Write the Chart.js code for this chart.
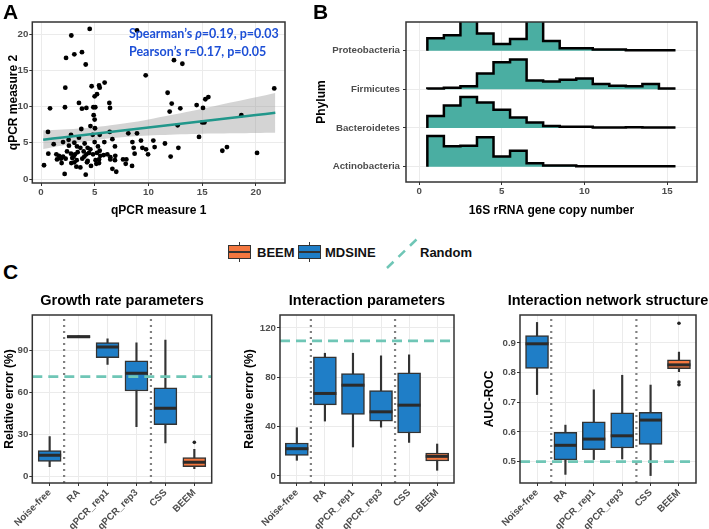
<!DOCTYPE html>
<html><head><meta charset="utf-8">
<script src="https://cdn.jsdelivr.net/npm/chart.js@4.4.1/dist/chart.umd.min.js"></script>
<style>
html,body{margin:0;padding:0;width:709px;height:529px;overflow:hidden;background:#fff;font-family:"Liberation Sans",Arial,Helvetica,sans-serif;}
.abs{position:absolute;}
canvas{position:absolute;}
.letter{position:absolute;font-size:21px;font-weight:bold;line-height:21px;color:#000;}
.ann{position:absolute;font-family:Lato,"Open Sans",sans-serif;font-weight:bold;font-size:12.5px;line-height:16px;color:#1d4fd6;white-space:nowrap;}
.leg{position:absolute;font-size:13px;font-weight:bold;line-height:16px;color:#111;white-space:nowrap;}
</style></head>
<body>
<canvas id="chartA" width="300" height="222" style="left:0;top:0"></canvas>
<canvas id="chartB" width="409" height="222" style="left:300px;top:0"></canvas>
<canvas id="chartC1" width="244" height="241" style="left:0;top:288px"></canvas>
<canvas id="chartC2" width="262" height="241" style="left:236px;top:288px"></canvas>
<canvas id="chartC3" width="276" height="241" style="left:470px;top:288px"></canvas>

<div class="letter" style="left:3px;top:1px">A</div>
<div class="letter" style="left:313px;top:1px">B</div>
<div class="letter" style="left:3px;top:261px">C</div>

<div class="ann" style="left:129px;top:26px">Spearman’s <i>ρ</i>=0.19, p=0.03</div>
<div class="ann" style="left:129px;top:44px">Pearson’s r=0.17, p=0.05</div>

<!-- legend -->
<div class="abs" style="left:228px;top:242px;width:23px;height:20px">
  <div style="position:absolute;left:10.75px;top:0;width:1.5px;height:20px;background:#333"></div>
  <div style="position:absolute;left:0;top:3px;width:23px;height:14px;box-sizing:border-box;border:1.5px solid #333;background:#f4773f"></div>
  <div style="position:absolute;left:0;top:9.25px;width:23px;height:1.5px;background:#333"></div>
</div>
<div class="leg" style="left:257px;top:245px">BEEM</div>
<div class="abs" style="left:298px;top:242px;width:23px;height:20px">
  <div style="position:absolute;left:10.75px;top:0;width:1.5px;height:20px;background:#333"></div>
  <div style="position:absolute;left:0;top:3px;width:23px;height:14px;box-sizing:border-box;border:1.5px solid #333;background:#1f7ec7"></div>
  <div style="position:absolute;left:0;top:9.25px;width:23px;height:1.5px;background:#333"></div>
</div>
<div class="leg" style="left:325px;top:245px">MDSINE</div>
<svg class="abs" style="left:385px;top:236px" width="36" height="34"><line x1="2" y1="32" x2="33" y2="2" stroke="#6fc6b6" stroke-width="2.5" stroke-dasharray="9 7"/></svg>
<div class="leg" style="left:420px;top:245px">Random</div>

<script>
// ================= DATA =================
// Panel A: qPCR measurements
const qpcr1 = [4.53,8.93,2.82,3.1,3.81,2.33,4.16,12.37,13.15,9.74,5.92,5.4,5.46,4.71,2.26,21.7,11.78,5.21,4.99,15.57,15.29,3.53,6.36,12.16,14.48,0.84,2.23,4.22,3.81,4.87,5.05,6.42,12.96,15.07,11.97,18.64,4.9,4.99,15.0,15.2,12.71,4.6,5.02,3.75,0.65,6.39,8.12,8.93,2.79,5.46,3.53,4.81,6.64,10.45,9.3,8.5,14.7,2.05,2.57,3.1,4.06,4.99,5.89,1.18,0.68,0.28,2.6,3.35,3.66,4.34,4.59,5.3,5.46,6.88,8.62,9.43,10.57,11.53,8.71,9.77,9.96,12.06,12.78,16.87,17.3,20.1,1.43,1.67,2.05,2.42,2.79,3.16,3.41,3.97,4.22,4.47,4.84,5.21,5.52,5.83,6.17,6.45,6.91,1.49,1.86,2.29,2.91,3.32,3.84,4.34,5.08,5.4,6.45,6.88,7.63,7.94,1.92,2.82,3.1,4.28,5.15,5.4,7.88,8.47,3.29,3.66,6.64,7.0,2.2,4.16,3.04,4.03,4.65];
const qpcr2 = [20.7,20.5,19.8,17.2,17.5,16.7,15.8,16.4,15.9,14.3,13.3,12.9,12.6,12.8,12.6,12.5,11.9,11.7,11.4,11.3,11.0,10.5,10.5,10.4,10.2,9.75,9.9,9.8,9.7,9.9,9.9,9.8,9.75,9.8,9.3,8.8,8.8,8.2,7.8,7.8,7.4,7.3,7.0,6.9,6.5,6.5,6.3,6.3,6.1,6.1,5.7,6.1,5.5,5.3,5.3,5.1,5.8,5.1,5.4,5.0,4.9,5.1,5.1,4.8,3.5,1.9,4.6,4.5,4.3,4.3,4.1,4.5,3.9,4.5,4.3,4.3,4.4,4.9,3.5,4.1,3.4,3.1,4.3,3.9,4.4,3.6,3.4,3.2,3.1,3.8,3.5,3.4,3.7,3.8,3.4,3.6,3.4,3.6,3.2,3.3,3.4,3.0,3.2,2.7,2.8,2.8,2.9,2.6,2.8,2.5,2.6,2.7,2.7,2.6,2.7,2.7,2.2,2.2,2.3,2.3,2.1,2.2,2.1,1.8,1.7,1.6,1.4,1.0,0.7,0.6,3.1,3.1,1.8];
const fitX     = [0.2, 2, 4, 6, 8, 10, 12, 14, 16, 18, 20, 21.8];
const fitY     = [5.43,5.74,6.08,6.43,6.77,7.11,7.45,7.79,8.14,8.48,8.82,9.13];
const bandLow  = [4.13,4.64,5.14,5.55,5.83,6.01,6.12,6.20,6.27,6.31,6.35,6.38];
const bandHigh = [6.73,6.84,7.02,7.31,7.71,8.21,8.78,9.38,10.01,10.65,11.29,11.88];
const ticksA = [0,5,10,15,20];

// Panel B: 16S copy number distributions (bin heights, 1-wide bins from 0.5 to 15.5)
const phyla = ['Actinobacteria','Bacteroidetes','Firmicutes','Proteobacteria'];
const binEdges = [0.5,1.5,2.5,3.5,4.5,5.5,6.5,7.5,8.5,9.5,10.5,11.5,12.5,13.5,14.5,15.5];
const actinoH  = [0.79,0.53,0.54,0.76,0.26,0.41,0.09,0.03,0.03,0.01,0.01,0.01,0.01,0.01,0.01];
const bacteroH = [0.31,0.58,0.80,0.66,0.47,0.27,0.14,0.05,0.03,0.03,0.01,0.01,0.02,0.01,0.01];
const firmH    = [0.02,0.04,0.08,0.41,0.70,0.77,0.23,0.20,0.25,0.28,0.14,0.09,0.08,0.14,0.02];
const proteoH  = [0.32,0.40,1.00,0.44,0.17,0.30,1.00,0.25,0.06,0.06,0.03,0.03,0.01,0.01,0.01];
const ticksB = [0,5,10,15];

// Panel C: box plot summaries
const methods = ['Noise-free','RA','qPCR_rep1','qPCR_rep3','CSS','BEEM'];
const tools   = ['MDSINE','MDSINE','MDSINE','MDSINE','MDSINE','BEEM'];
const growthLo  = [6.9, 99.5, 80.2, 35.6, 23.9, 5.5];
const growthQ1  = [10.7, 99.2, 85.0, 61.1, 37.0, 6.9];
const growthMed = [15.0, 100.0, 92.6, 73.8, 48.7, 10.0];
const growthQ3  = [18.4, 100.8, 95.7, 82.6, 63.3, 13.4];
const growthHi  = [28.4, 100.5, 98.4, 95.5, 97.6, 19.3];
const growthOutX = [6];
const growthOutY = [24.3];
const growthRandom = 71.4;
const growthTicks = [0,30,60,90];

const interLo  = [12.7, 44.5, 23.5, 39.6, 27.2, 4.6];
const interQ1  = [16.7, 57.7, 49.9, 44.5, 34.8, 12.1];
const interMed = [22.1, 66.9, 73.6, 52.0, 57.4, 15.9];
const interQ3  = [26.7, 96.5, 83.1, 69.3, 83.6, 18.6];
const interHi  = [39.1, 99.5, 99.5, 97.4, 98.2, 25.9];
const interOutX = [];
const interOutY = [];
const interRandom = 109.5;
const interTicks = [0,40,80,120];

const netLo  = [0.726, 0.457, 0.507, 0.509, 0.453, 0.803];
const netQ1  = [0.814, 0.506, 0.540, 0.546, 0.558, 0.813];
const netMed = [0.897, 0.555, 0.576, 0.587, 0.640, 0.826];
const netQ3  = [0.925, 0.599, 0.634, 0.664, 0.666, 0.843];
const netHi  = [0.969, 0.623, 0.742, 0.791, 0.758, 0.869];
const netOutX = [6, 6, 6];
const netOutY = [0.966, 0.768, 0.759];
const netRandom = 0.5;
const netTicks = [0.5,0.6,0.7,0.8,0.9];

// ================= STYLE =================
Chart.defaults.font.family = '"Liberation Sans", Arial, Helvetica, sans-serif';
Chart.defaults.animation = false;
Chart.defaults.responsive = false;
Chart.defaults.plugins.legend.display = false;
Chart.defaults.plugins.tooltip.enabled = false;

const GRID = '#ebebeb', TICKC = '#4d4d4d', AXC = '#333333';
const tickFont = {size: 9.7, weight: 'bold'};
const axTitleFont = {size: 12, weight: 'bold'};
const toolColor = {MDSINE: '#1f7ec7', BEEM: '#f4773f'};

Chart.register({
  id: 'frame',
  afterDatasetsDraw(chart) {
    const {ctx, chartArea: a} = chart;
    ctx.save();
    ctx.strokeStyle = '#333'; ctx.lineWidth = 1.5;
    ctx.strokeRect(a.left, a.top, a.right - a.left, a.bottom - a.top);
    ctx.restore();
  }
});

const fixedTicks = vals => s => { s.ticks = vals.map(v => ({value: v})); };
const xy = (xs, ys) => xs.map((x, i) => ({x, y: ys[i]}));

// ================= PANEL A =================
new Chart(document.getElementById('chartA'), {
  type: 'scatter',
  data: {datasets: [
    {type: 'line', data: xy(fitX, fitY), borderColor: '#21978b', borderWidth: 2.5, pointRadius: 0, tension: 0.2, fill: false},
    {type: 'scatter', data: xy(qpcr1, qpcr2), pointRadius: 2.4, backgroundColor: '#000', borderColor: '#000', borderWidth: 0},
    {type: 'line', data: xy(fitX, bandHigh), borderColor: 'rgba(0,0,0,0)', borderWidth: 0, pointRadius: 0, tension: 0.3, fill: '+1', backgroundColor: 'rgba(153,153,153,0.42)'},
    {type: 'line', data: xy(fitX, bandLow), borderColor: 'rgba(0,0,0,0)', borderWidth: 0, pointRadius: 0, tension: 0.3, fill: false}
  ]},
  options: {
    layout: {padding: {top: 22, right: 15, left: 0, bottom: 0}},
    scales: {
      x: {type: 'linear', min: -0.81, max: 22.7, afterBuildTicks: fixedTicks(ticksA), afterFit: s => { s.height = 39; },
        grid: {color: GRID, tickColor: AXC, tickLength: 3}, border: {display: false},
        ticks: {color: TICKC, font: tickFont, padding: 1, maxRotation: 0},
        title: {display: true, text: 'qPCR measure 1', color: '#000', font: axTitleFont, padding: {top: 0, bottom: 3.8}}},
      y: {type: 'linear', min: -0.55, max: 21.66, afterBuildTicks: fixedTicks(ticksA), afterFit: s => { s.width = 32.3; },
        grid: {color: GRID, tickColor: AXC, tickLength: 3}, border: {display: false},
        ticks: {color: TICKC, font: tickFont, padding: 1},
        title: {display: true, text: 'qPCR measure 2', color: '#000', font: axTitleFont, padding: {top: 6, bottom: 0}}}
    }
  }
});

// ================= PANEL B =================
function ridgePoints(h, off) {
  const pts = [{x: binEdges[0], y: off}];
  h.forEach((v, i) => pts.push({x: binEdges[i], y: off + v}));
  pts.push({x: binEdges[binEdges.length - 1], y: off + h[h.length - 1]});
  return pts;
}
const ridgeHeights = [actinoH, bacteroH, firmH, proteoH];
new Chart(document.getElementById('chartB'), {
  type: 'line',
  data: {datasets: ridgeHeights.map((h, i) => ({
    data: ridgePoints(h, i + 1), stepped: 'before', borderColor: '#000', borderWidth: 2.5,
    pointRadius: 0, fill: {value: i + 1}, backgroundColor: '#4aaea2', borderJoinStyle: 'miter'
  }))},
  options: {
    layout: {padding: {top: 22, right: 12, left: 0, bottom: 0}},
    scales: {
      x: {type: 'linear', min: -0.79, max: 16.8, afterBuildTicks: fixedTicks(ticksB), afterFit: s => { s.height = 40; },
        grid: {color: GRID, tickColor: AXC, tickLength: 3}, border: {display: false},
        ticks: {color: TICKC, font: tickFont, padding: 1, maxRotation: 0},
        title: {display: true, text: '16S rRNA gene copy number', color: '#000', font: axTitleFont, padding: {top: 0, bottom: 3.8}}},
      y: {type: 'linear', min: 0.604, max: 4.74, afterBuildTicks: fixedTicks([1, 2, 3, 4]), afterFit: s => { s.width = 106; },
        grid: {color: GRID, tickColor: AXC, tickLength: 3}, border: {display: false},
        ticks: {color: TICKC, font: tickFont, padding: 3, callback: (v, i) => phyla[i]},
        title: {display: true, text: 'Phylum', color: '#000', font: axTitleFont, padding: {top: 14.5, bottom: 0}}}
    }
  }
});

// ================= PANEL C =================
function boxChart(id, c) {
  const pos = methods.map((m, i) => i + 1);
  const colors = tools.map(t => toolColor[t]);
  new Chart(document.getElementById(id), {
    type: 'bar',
    data: {datasets: [
      {type: 'line', data: [{x: 0.4, y: c.random}, {x: 6.6, y: c.random}], borderColor: '#6fc6b6', borderWidth: 2.6, borderDash: [10, 6], pointRadius: 0, fill: false},
      {type: 'line', data: [{x: 1.5, y: c.yMin}, {x: 1.5, y: c.yMax}], borderColor: '#808080', borderWidth: 2.2, borderDash: [2, 4], pointRadius: 0, fill: false},
      {type: 'line', data: [{x: 4.5, y: c.yMin}, {x: 4.5, y: c.yMax}], borderColor: '#808080', borderWidth: 2.2, borderDash: [2, 4], pointRadius: 0, fill: false},
      {type: 'line', data: xy(pos, c.med), showLine: false, pointStyle: 'line', pointRadius: 11.5, pointBorderWidth: 3, pointBorderColor: '#2b2b2b'},
      {type: 'bar', data: pos.map((x, i) => ({x, y: [c.q1[i], c.q3[i]]})), backgroundColor: colors, borderColor: '#333', borderWidth: 1.5, borderSkipped: false, barThickness: 23, grouped: false},
      {type: 'bar', data: pos.map((x, i) => ({x, y: [c.lo[i], c.hi[i]]})), backgroundColor: '#333', borderWidth: 0, barThickness: 1.5, grouped: false},
      {type: 'line', data: xy(c.outX, c.outY), showLine: false, pointRadius: 1.8, pointBackgroundColor: '#222', pointBorderColor: '#222', pointBorderWidth: 0}
    ]},
    options: {
      layout: {padding: 0},
      plugins: {title: {display: true, text: c.title, color: '#000', fullSize: true, font: {size: 14.5, weight: 'bold'}, padding: {top: 4, bottom: 5.6}}},
      scales: {
        x: {type: 'linear', min: 0.4, max: 6.6, offset: false, afterBuildTicks: fixedTicks(pos), afterFit: s => { s.height = 46; },
          grid: {color: GRID, tickColor: AXC, tickLength: 3, offset: false}, border: {display: false},
          ticks: {color: TICKC, font: tickFont, padding: 1, autoSkip: false, minRotation: 45, maxRotation: 45, callback: (v, i) => methods[i]}},
        y: {type: 'linear', min: c.yMin, max: c.yMax, afterBuildTicks: fixedTicks(c.ticks), afterFit: s => { s.width = c.yW; },
          grid: {color: GRID, tickColor: AXC, tickLength: 3}, border: {display: false},
          ticks: {color: TICKC, font: tickFont, padding: 1, callback: c.fmt || (v => v)},
          title: {display: true, text: c.yTitle, color: '#000', font: axTitleFont, padding: {top: c.yTitlePad, bottom: 0}}},
        yPad: {type: 'linear', position: 'right', min: c.yMin, max: c.yMax, afterFit: s => { s.width = c.yW; },
          grid: {display: false}, border: {display: false}, ticks: {display: false}}
      }
    }
  });
}

boxChart('chartC1', {title: 'Growth rate parameters', yTitle: 'Relative error (%)', lo: growthLo, q1: growthQ1, med: growthMed, q3: growthQ3, hi: growthHi,
  outX: growthOutX, outY: growthOutY, random: growthRandom, ticks: growthTicks, yMin: -4.8, yMax: 115.5, yW: 32.3, yTitlePad: 2.1});
boxChart('chartC2', {title: 'Interaction parameters', yTitle: 'Relative error (%)', lo: interLo, q1: interQ1, med: interMed, q3: interQ3, hi: interHi,
  outX: interOutX, outY: interOutY, random: interRandom, ticks: interTicks, yMin: -5.7, yMax: 130.5, yW: 44, yTitlePad: 6.1});
boxChart('chartC3', {title: 'Interaction network structure', yTitle: 'AUC-ROC', lo: netLo, q1: netQ1, med: netMed, q3: netQ3, hi: netHi,
  outX: netOutX, outY: netOutY, random: netRandom, ticks: netTicks, yMin: 0.428, yMax: 0.994, yW: 50, yTitlePad: 12.1, fmt: v => v.toFixed(1)});
</script>
</body></html>
